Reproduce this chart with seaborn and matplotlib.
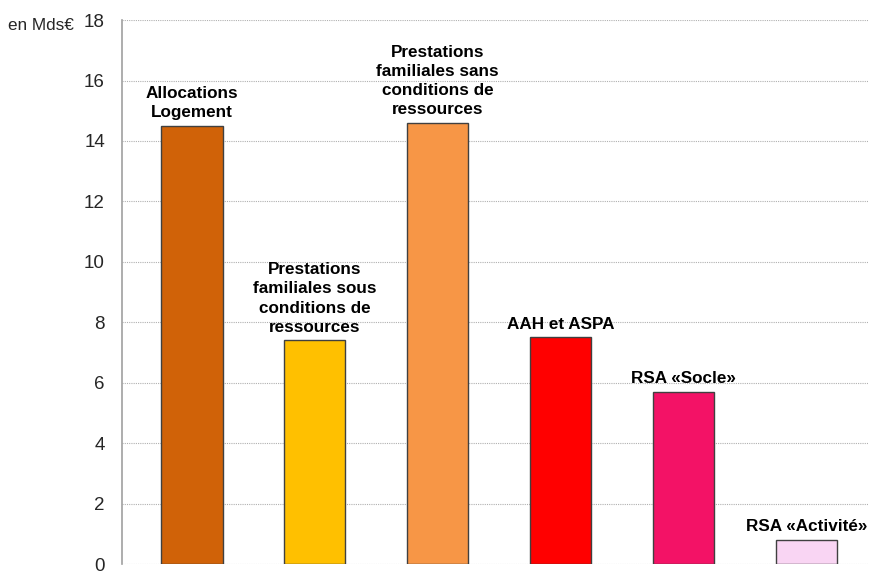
import matplotlib
matplotlib.use("Agg")
import matplotlib.pyplot as plt
import seaborn as sns
import pandas as pd

categories = ["Allocations\nLogement",
              "Prestations\nfamiliales sous\nconditions de\nressources",
              "Prestations\nfamiliales sans\nconditions de\nressources",
              "AAH et ASPA",
              "RSA «Socle»",
              "RSA «Activité»"]
values = [14.5, 7.4, 14.6, 7.5, 5.7, 0.8]
colors = ["#D06208", "#FFC000", "#F79646", "#FF0000", "#F31266", "#F9D5F3"]
yticks = [0, 2, 4, 6, 8, 10, 12, 14, 16, 18]

sns.set_style("white")
plt.rcParams["font.family"] = ["Liberation Sans", "DejaVu Sans"]

df = pd.DataFrame({"cat": categories, "val": values})

fig = plt.figure(figsize=(8.69, 5.73), dpi=100)
ax = fig.add_axes([0.140, 0.0155, 0.859, 0.9495])

sns.barplot(data=df, x="cat", y="val", hue="cat", palette=colors,
            legend=False, width=0.5, edgecolor="#404040", linewidth=1.0,
            saturation=1, ax=ax)

for i, (lab, v) in enumerate(zip(categories, values)):
    ax.annotate(lab, (i, v), xytext=(0, 4), textcoords="offset points",
                ha="center", va="bottom", fontsize=12.3, fontweight="bold",
                linespacing=1.35, color="black")

ax.set_ylim(0, 18)
ax.set_xlim(-0.57, 5.5)
ax.set_yticks(yticks)
ax.set_yticklabels([str(t) for t in yticks], fontsize=13.5)
ax.set_xticks([])
ax.set_xlabel("")
ax.set_ylabel("")
ax.yaxis.grid(True, linestyle=(0, (1, 1)), color="#B0B0B0", linewidth=0.8)
ax.set_axisbelow(True)
ax.tick_params(axis="y", length=6, width=1, color="#A0A0A0", pad=6)
for s in ["top", "right", "bottom"]:
    ax.spines[s].set_visible(False)
ax.spines["left"].set_color("#A0A0A0")
ax.spines["left"].set_linewidth(1.2)

fig.text(0.009, 0.955, "en Mds€", fontsize=12.3, ha="left", va="center")

fig.savefig("out.png", dpi=100)
